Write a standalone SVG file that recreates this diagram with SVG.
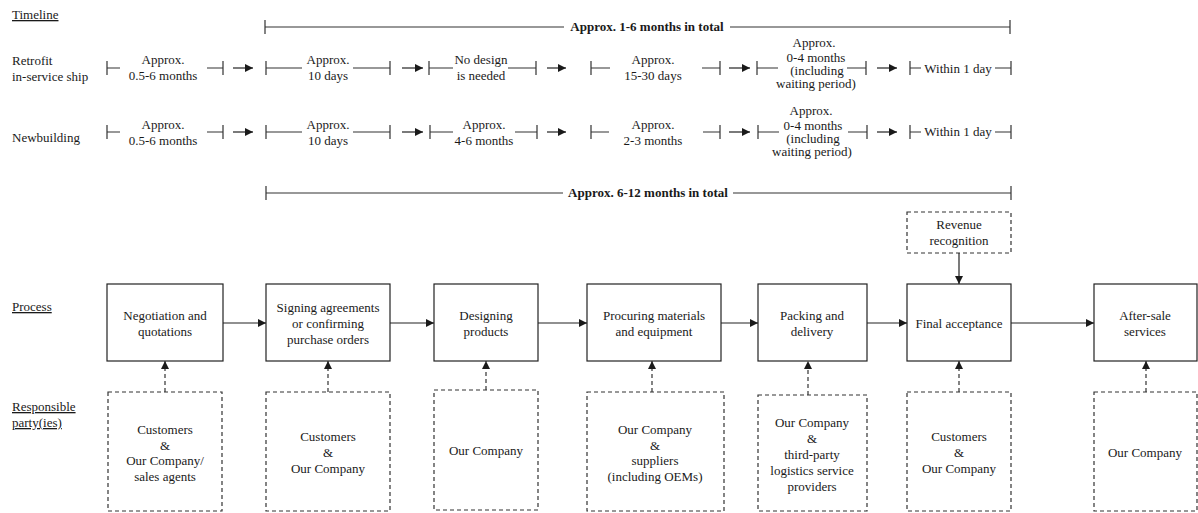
<svg xmlns="http://www.w3.org/2000/svg" width="1198" height="513" viewBox="0 0 1198 513" font-family="Liberation Serif, Times New Roman, serif">
  <defs>
    <marker id="ah" viewBox="0 0 10 10" refX="10" refY="5" markerWidth="9" markerHeight="8" markerUnits="userSpaceOnUse" orient="auto">
      <path d="M0,0 L10,5 L0,10 Z" fill="#1a1a1a"/>
    </marker>
    <style>
      text { font-family: "Liberation Serif", "Times New Roman", serif; font-size: 13px; fill: #1a1a1a; }
      .c { text-anchor: middle; }
      .b { font-weight: bold; }
      .u { text-decoration: underline; }
      .ln { stroke: #333; stroke-width: 1.2; fill: none; }
      .box { stroke: #222; stroke-width: 1.2; fill: #fff; }
      .dbox { stroke: #333; stroke-width: 1.2; fill: #fff; stroke-dasharray: 4 3; }
      .arr { stroke: #222; stroke-width: 1.2; fill: none; marker-end: url(#ah); }
      .darr { stroke: #333; stroke-width: 1.2; fill: none; stroke-dasharray: 4 3; marker-end: url(#ah); }
    </style>
  </defs>

  <!-- section labels -->
  <g id="labels">
    <text x="12" y="19" class="u">Timeline</text>
    <text x="12" y="65">Retrofit</text>
    <text x="12" y="81">in-service ship</text>
    <text x="12" y="142">Newbuilding</text>
    <text x="12" y="311" class="u">Process</text>
    <text x="12" y="411" class="u">Responsible</text>
    <text x="12" y="427" class="u">party(ies)</text>
  </g>

  <!-- overall duration brackets -->
  <g id="total-retrofit">
    <path class="ln" d="M265,20 V34 M265,27 H564 M730,27 H1010 M1010,20 V34"/>
    <text x="647" y="31" class="c b">Approx. 1-6 months in total</text>
  </g>
  <g id="total-newbuilding">
    <path class="ln" d="M266,186 V200 M266,193 H563 M733,193 H1011 M1011,186 V200"/>
    <text x="648" y="197" class="c b">Approx. 6-12 months in total</text>
  </g>

  <!-- timeline: retrofit in-service ship -->
  <g id="timeline-retrofit">
    <path class="ln" d="M107,61 V75 M107,68 H120 M207,68 H223 M223,61 V75"/>
    <text x="163" y="64" class="c">Approx.</text>
    <text x="163" y="80" class="c">0.5-6 months</text>
    <path class="arr" d="M233,68 H253"/>

    <path class="ln" d="M266,61 V75 M266,68 H302 M353,68 H390 M390,61 V75"/>
    <text x="328" y="64" class="c">Approx.</text>
    <text x="328" y="80" class="c">10 days</text>
    <path class="arr" d="M402,68 H423"/>

    <path class="ln" d="M429,61 V75 M429,68 H453 M508,68 H536 M536,61 V75"/>
    <text x="481" y="64" class="c">No design</text>
    <text x="481" y="80" class="c">is needed</text>
    <path class="arr" d="M547,68 H566"/>

    <path class="ln" d="M591,61 V75 M591,68 H610 M702,68 H720 M720,61 V75"/>
    <text x="653" y="64" class="c">Approx.</text>
    <text x="653" y="80" class="c">15-30 days</text>
    <path class="arr" d="M729,68 H750"/>

    <path class="ln" d="M757,61 V75 M757,68 H778 M847,68 H866 M866,61 V75"/>
    <text x="814" y="47" class="c">Approx.</text>
    <text x="816" y="62" class="c">0-4 months</text>
    <text x="817" y="75" class="c">(including</text>
    <text x="816" y="88" class="c">waiting period)</text>
    <path class="arr" d="M877,68 H897"/>

    <path class="ln" d="M910,61 V75 M910,68 H921 M995,68 H1011 M1011,61 V75"/>
    <text x="958" y="73" class="c">Within 1 day</text>
  </g>

  <!-- timeline: newbuilding -->
  <g id="timeline-newbuilding">
    <path class="ln" d="M107,125 V139 M107,132 H120 M207,132 H223 M223,125 V139"/>
    <text x="163" y="129" class="c">Approx.</text>
    <text x="163" y="145" class="c">0.5-6 months</text>
    <path class="arr" d="M233,132 H253"/>

    <path class="ln" d="M266,125 V139 M266,132 H302 M353,132 H390 M390,125 V139"/>
    <text x="328" y="129" class="c">Approx.</text>
    <text x="328" y="145" class="c">10 days</text>
    <path class="arr" d="M402,132 H423"/>

    <path class="ln" d="M430,125 V139 M430,132 H453 M515,132 H537 M537,125 V139"/>
    <text x="484" y="129" class="c">Approx.</text>
    <text x="484" y="145" class="c">4-6 months</text>
    <path class="arr" d="M547,132 H566"/>

    <path class="ln" d="M591,125 V139 M591,132 H609 M703,132 H720 M720,125 V139"/>
    <text x="653" y="129" class="c">Approx.</text>
    <text x="653" y="145" class="c">2-3 months</text>
    <path class="arr" d="M729,132 H750"/>

    <path class="ln" d="M758,125 V139 M758,132 H779 M848,132 H867 M867,125 V139"/>
    <text x="811" y="115" class="c">Approx.</text>
    <text x="813" y="130" class="c">0-4 months</text>
    <text x="813" y="143" class="c">(including</text>
    <text x="812" y="156" class="c">waiting period)</text>
    <path class="arr" d="M877,132 H897"/>

    <path class="ln" d="M910,125 V139 M910,132 H921 M995,132 H1011 M1011,125 V139"/>
    <text x="958" y="136" class="c">Within 1 day</text>
  </g>

  <!-- process steps -->
  <g id="step-negotiation">
    <rect class="box" x="107" y="284" width="116" height="77"/>
    <text x="165" y="320" class="c">Negotiation and</text>
    <text x="165" y="336" class="c">quotations</text>
  </g>
  <g id="step-signing">
    <rect class="box" x="266" y="284" width="124" height="77"/>
    <text x="328" y="312" class="c">Signing agreements</text>
    <text x="328" y="328" class="c">or confirming</text>
    <text x="328" y="344" class="c">purchase orders</text>
  </g>
  <g id="step-designing">
    <rect class="box" x="434" y="284" width="104" height="77"/>
    <text x="486" y="320" class="c">Designing</text>
    <text x="486" y="336" class="c">products</text>
  </g>
  <g id="step-procuring">
    <rect class="box" x="587" y="284" width="134" height="77"/>
    <text x="654" y="320" class="c">Procuring materials</text>
    <text x="654" y="336" class="c">and equipment</text>
  </g>
  <g id="step-packing">
    <rect class="box" x="758" y="284" width="109" height="77"/>
    <text x="812" y="320" class="c">Packing and</text>
    <text x="812" y="336" class="c">delivery</text>
  </g>
  <g id="step-acceptance">
    <rect class="box" x="907" y="284" width="104" height="77"/>
    <text x="959" y="328" class="c">Final acceptance</text>
  </g>
  <g id="step-aftersale">
    <rect class="box" x="1094" y="284" width="103" height="77"/>
    <text x="1145" y="320" class="c">After-sale</text>
    <text x="1145" y="336" class="c">services</text>
  </g>
  <g id="revenue-recognition">
    <rect class="dbox" x="907" y="212" width="104" height="41"/>
    <text x="959" y="229" class="c">Revenue</text>
    <text x="959" y="245" class="c">recognition</text>
  </g>

  <!-- responsible parties -->
  <g id="party-negotiation">
    <rect class="dbox" x="108" y="392" width="114" height="119"/>
    <text x="165" y="434" class="c">Customers</text>
    <text x="165" y="450" class="c">&amp;</text>
    <text x="165" y="465" class="c">Our Company/</text>
    <text x="165" y="481" class="c">sales agents</text>
  </g>
  <g id="party-signing">
    <rect class="dbox" x="266" y="392" width="124" height="119"/>
    <text x="328" y="441" class="c">Customers</text>
    <text x="328" y="457" class="c">&amp;</text>
    <text x="328" y="473" class="c">Our Company</text>
  </g>
  <g id="party-designing">
    <rect class="dbox" x="434" y="390" width="104" height="120"/>
    <text x="486" y="455" class="c">Our Company</text>
  </g>
  <g id="party-procuring">
    <rect class="dbox" x="587" y="392" width="137" height="119"/>
    <text x="655" y="434" class="c">Our Company</text>
    <text x="655" y="450" class="c">&amp;</text>
    <text x="655" y="465" class="c">suppliers</text>
    <text x="655" y="481" class="c">(including OEMs)</text>
  </g>
  <g id="party-packing">
    <rect class="dbox" x="758" y="395" width="109" height="116"/>
    <text x="812" y="427" class="c">Our Company</text>
    <text x="812" y="443" class="c">&amp;</text>
    <text x="812" y="459" class="c">third-party</text>
    <text x="812" y="475" class="c">logistics service</text>
    <text x="812" y="491" class="c">providers</text>
  </g>
  <g id="party-acceptance">
    <rect class="dbox" x="907" y="392" width="104" height="119"/>
    <text x="959" y="441" class="c">Customers</text>
    <text x="959" y="457" class="c">&amp;</text>
    <text x="959" y="473" class="c">Our Company</text>
  </g>
  <g id="party-aftersale">
    <rect class="dbox" x="1094" y="392" width="103" height="119"/>
    <text x="1145" y="457" class="c">Our Company</text>
  </g>

  <!-- connectors -->
  <g id="connectors">
    <path class="arr" d="M223,323 H266"/>
    <path class="arr" d="M390,323 H434"/>
    <path class="arr" d="M538,323 H587"/>
    <path class="arr" d="M721,323 H758"/>
    <path class="arr" d="M867,323 H907"/>
    <path class="arr" d="M1011,323 H1094"/>
    <path class="arr" d="M959,253 V284"/>

    <path class="darr" d="M165,392 V361"/>
    <path class="darr" d="M328,392 V361"/>
    <path class="darr" d="M486,390 V361"/>
    <path class="darr" d="M652,392 V361"/>
    <path class="darr" d="M808,395 V361"/>
    <path class="darr" d="M959,392 V361"/>
    <path class="darr" d="M1146,392 V361"/>
  </g>
</svg>
